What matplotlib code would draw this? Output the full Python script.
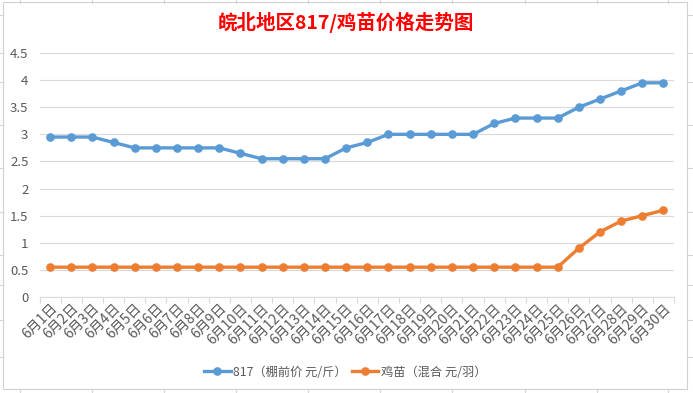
import matplotlib
matplotlib.use("Agg")
import matplotlib.pyplot as plt
from matplotlib.lines import Line2D
from matplotlib.patches import Rectangle

plt.rcParams['font.family'] = ['Noto Sans CJK SC', 'DejaVu Sans']

days = [f"6月{d}日" for d in range(1, 31)]
price_817 = [2.95, 2.95, 2.95, 2.85, 2.75, 2.75, 2.75, 2.75, 2.75, 2.65,
             2.55, 2.55, 2.55, 2.55, 2.75, 2.85, 3.0, 3.0, 3.0, 3.0,
             3.0, 3.2, 3.3, 3.3, 3.3, 3.5, 3.65, 3.8, 3.95, 3.95]
price_chick = [0.55] * 25 + [0.9, 1.2, 1.4, 1.5, 1.6]
yticks = [0, 0.5, 1, 1.5, 2, 2.5, 3, 3.5, 4, 4.5]
ytick_labels = ["0", "0.5", "1", "1.5", "2", "2.5", "3", "3.5", "4", "4.5"]
title = "皖北地区817/鸡苗价格走势图"
label_817 = "817（棚前价 元/斤）"
label_chick = "鸡苗（混合 元/羽）"

W, H = 693, 393
fig = plt.figure(figsize=(W / 100, H / 100), dpi=100)
fig.patch.set_facecolor("white")

# spreadsheet background lines (outside chart frame)
bg = fig.add_axes([0, 0, 1, 1], zorder=-5)
bg.set_xlim(0, W); bg.set_ylim(H, 0); bg.axis("off")
grid_c = "#D4D4D4"
for x in [20, 92, 164, 236, 308, 380, 452, 525, 597, 668]:
    bg.plot([x, x], [0, 3], color=grid_c, lw=0.8)
    bg.plot([x, x], [389, H], color=grid_c, lw=0.8)
for y in [15, 53, 82, 125, 168, 212, 255, 285, 320, 357]:
    bg.plot([0, 3], [y, y], color=grid_c, lw=0.8)
    bg.plot([687, W], [y, y], color=grid_c, lw=0.8)
bg.add_patch(Rectangle((3, 2), 684, 387, fill=False, edgecolor="#D0D0D0", lw=0.8))

left, right = 39.5, 674
top, bottom = 53, 297
ax = fig.add_axes([left / W, 1 - bottom / H, (right - left) / W, (bottom - top) / H])

x = list(range(len(days)))
blue = "#5B9BD5"
orange = "#ED7D31"
ax.plot(x, price_817, color=blue, lw=2.4, marker="o", markersize=5.2, zorder=3)
ax.plot(x, price_chick, color=orange, lw=2.4, marker="o", markersize=5.2, zorder=3)

ax.set_xlim(-0.5, len(days) - 0.5)
ax.set_ylim(0, 4.5)
ax.set_yticks(yticks)
ax.set_yticklabels(ytick_labels)
ax.yaxis.grid(True, color="#D9D9D9", lw=0.8)
ax.set_axisbelow(True)
for s in ["top", "right", "left"]:
    ax.spines[s].set_visible(False)
ax.spines["bottom"].set_color("#D9D9D9")
ax.spines["bottom"].set_linewidth(0.8)
ax.tick_params(axis="y", length=0, pad=8, labelsize=9.5, labelcolor="#595959")

ax.set_xticks(x)
ax.set_xticklabels(days, rotation=45, ha="right", va="top", rotation_mode="anchor")
ax.tick_params(axis="x", which="major", length=0, pad=3, labelsize=10, labelcolor="#595959")
ax.set_xticks([i - 0.5 for i in range(len(days) + 1)], minor=True)
ax.tick_params(axis="x", which="minor", length=4, color="#D9D9D9", width=0.8)
for lbl in ax.get_xticklabels():
    lbl.set_fontweight("light")

fig.text(346 / W, 1 - 22 / H, title, ha="center", va="center", color="#FF0000",
         fontsize=14, fontweight="bold")

handles = [Line2D([], [], color=blue, lw=2.4, marker="o", markersize=5.2),
           Line2D([], [], color=orange, lw=2.4, marker="o", markersize=5.2)]
fig.legend(handles, [label_817, label_chick], loc="center", ncol=2,
           bbox_to_anchor=(345 / W, 1 - 372 / H), frameon=False,
           fontsize=8.8, handlelength=2.2, handletextpad=0.2, columnspacing=0.4,
           labelcolor="#595959")

fig.savefig("out.png", dpi=100)
